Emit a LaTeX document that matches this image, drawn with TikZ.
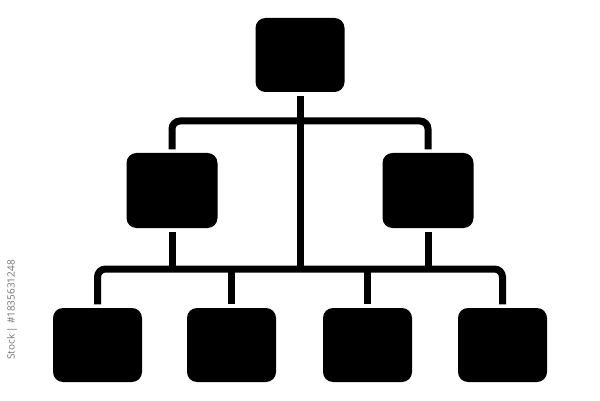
\documentclass[tikz,border=0pt]{standalone}
\usepackage{fontspec}
\setsansfont{Open Sans}
\begin{document}
\begin{tikzpicture}[x=1pt,y=1pt,
  box/.style={rectangle, rounded corners=10pt, fill=black, draw=none, minimum width=89pt, minimum height=74pt, inner sep=0pt},
  link/.style={line width=7pt, black, rounded corners=8pt},
  gapstart/.style={shorten <=3.5pt},
  gapend/.style={shorten >=3.5pt}]
\useasboundingbox[fill=white] (0,0) rectangle (600,-401);
\node[box] (top) at (300,-55) {};
\node[box, minimum width=91pt, minimum height=75pt] (ml) at (172,-190.5) {};
\node[box, minimum width=91pt, minimum height=75pt] (mr) at (428,-190.5) {};
\node[box] (b1) at (97.5,-345) {};
\node[box] (b2) at (231.5,-345) {};
\node[box] (b3) at (367.5,-345) {};
\node[box] (b4) at (502.5,-345) {};
\coordinate (ub) at (300,-121);
\coordinate (lb) at (300,-269);
% top stem through both bars
\draw[link, gapstart] (top.south) -- (lb);
% upper bar
\draw[link, gapstart, gapend] (ml.north) |- (ub) -| (mr.north);
% mid stems
\draw[link, gapstart] (ml.south) -- (ml.south |- lb);
\draw[link, gapstart] (mr.south) -- (mr.south |- lb);
% lower bar
\draw[link, gapstart, gapend] (b1.north) |- (lb) -| (b4.north);
\draw[link, gapstart] (b2.north) -- (b2.north |- lb);
\draw[link, gapstart] (b3.north) -- (b3.north |- lb);
% watermark id
\node[rotate=90, text=black!55, font=\sffamily\fontsize{10}{12}\selectfont, anchor=center, inner sep=0pt] (wm) at (12,-310) {Stock | \#1835631248};
\end{tikzpicture}
\end{document}
